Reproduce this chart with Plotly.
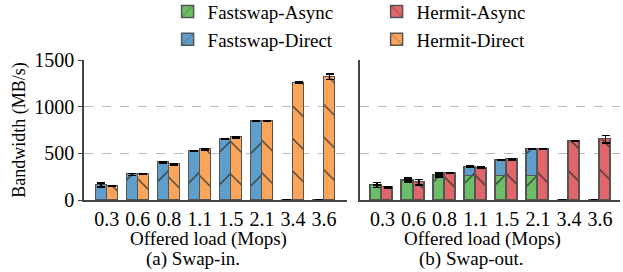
import plotly.graph_objects as go

loads = ["0.3", "0.6", "0.8", "1.1", "1.5", "2.1", "3.4", "3.6"]

# (a) Swap-in
in_fs_direct = [160, 275, 404, 528, 650, 846, 0, 0]
in_fs_direct_err = [20, 10, 5, 5, 3, 3, None, None]
in_hm_direct = [148, 275, 385, 546, 671, 846, 1257, 1321]
in_hm_direct_err = [4, 4, 8, 8, 6, 3, 5, 30]

# (b) Swap-out
out_fs_async = [160, 214, 268, 261, 261, 261, 0, 0]
out_fs_async_err = [25, 20, 20, None, None, None, None, None]
out_fs_direct = [0, 0, 0, 96, 168, 285, 0, 0]
out_fs_direct_err = [None, None, None, 10, 5, 5, None, None]
out_hm_async = [136, 189, 289, 346, 436, 546, 632, 650]
out_hm_async_err = [5, 30, 5, 10, 10, 5, 5, 40]

XTITLE = "Offered load (Mops)"
SUBTITLES = ["(a) Swap-in.", "(b) Swap-out."]

C_GREEN = "#6cbd68"
C_BLUE = "#5e9ecb"
C_RED = "#e0666a"
C_ORANGE = "#fba55b"
EDGE = "#555555"
FONT = "Liberation Serif"
BW = 0.355

idx = list(range(len(loads)))
x_fs = [i - BW / 2 for i in idx]
x_hm = [i + BW / 2 for i in idx]


def bar(x, y, err, color, shape, name, xa, ya, show, rank, legendgroup):
    return go.Bar(
        x=x, y=y, width=BW, name=name, xaxis=xa, yaxis=ya,
        showlegend=show, legendrank=rank, legendgroup=legendgroup,
        marker=dict(color=color, line=dict(color=EDGE, width=1.5),
                    pattern=dict(shape=shape, size=23, solidity=0.05,
                                 fgcolor="#222222", fgopacity=1)),
        error_y=dict(type="data", array=err, color="black", thickness=1.5, width=4),
    )


fig = go.Figure()
fig.add_trace(bar(x_fs, in_fs_direct, in_fs_direct_err, C_BLUE, "/", "Fastswap-Direct", "x", "y", True, 3, "fd"))
fig.add_trace(bar(x_hm, in_hm_direct, in_hm_direct_err, C_ORANGE, "\\", "Hermit-Direct", "x", "y", True, 4, "hd"))
fig.add_trace(bar(x_fs, out_fs_async, out_fs_async_err, C_GREEN, "/", "Fastswap-Async", "x2", "y2", True, 1, "fa"))
fig.add_trace(bar(x_fs, out_fs_direct, out_fs_direct_err, C_BLUE, "/", "Fastswap-Direct", "x2", "y2", False, 3, "fd"))
fig.add_trace(bar(x_hm, out_hm_async, out_hm_async_err, C_RED, "\\", "Hermit-Async", "x2", "y2", True, 2, "ha"))

axis_font = dict(family=FONT, size=20, color="black")
label_font = dict(family=FONT, size=19, color="black")
xcommon = dict(tickvals=idx, ticktext=loads, range=[-0.73, 7.74], showgrid=False,
               showline=True, linecolor="#444444", linewidth=1.5, ticks="",
               tickfont=axis_font, zeroline=False, automargin=False)
ycommon = dict(range=[0, 1500], tickvals=[0, 500, 1000, 1500], showgrid=True,
               gridcolor="#bbbbbb", griddash="dash", gridwidth=1, showline=True,
               linecolor="#444444", linewidth=1.5, zeroline=False, tickfont=axis_font,
               automargin=False)

# panel label annotations (paper coordinates; plot area spans 536 x 140 px)
annots = []
for cx_title, cx_sub, sub in [(208, 193, SUBTITLES[0]), (482, 471, SUBTITLES[1])]:
    annots.append(dict(text=XTITLE, x=(cx_title - 84) / 536, y=-39 / 140, xref="paper",
                       yref="paper", xanchor="center", yanchor="middle", showarrow=False,
                       font=label_font))
    annots.append(dict(text=sub, x=(cx_sub - 84) / 536, y=-59 / 140, xref="paper",
                       yref="paper", xanchor="center", yanchor="middle", showarrow=False,
                       font=label_font))

fig.update_layout(
    width=623, height=272,
    margin=dict(l=84, r=3, t=60, b=72, autoexpand=False),
    plot_bgcolor="white", paper_bgcolor="white",
    barmode="stack", bargap=0,
    font=dict(family=FONT, size=20, color="black"),
    xaxis=dict(domain=[0, 0.4907], **xcommon),
    xaxis2=dict(domain=[0.5149, 1], anchor="y2", **{**xcommon, "range": [-0.72, 7.64]}),
    yaxis=dict(**ycommon, ticks="outside", ticklen=4, tickcolor="#444444",
               title=dict(text="Bandwidth (MB/s)", font=dict(family=FONT, size=18, color="black"),
                          standoff=4)),
    yaxis2=dict(**ycommon, anchor="x2", showticklabels=False, ticks=""),
    annotations=annots,
    legend=dict(orientation="h", x=0.156, y=1.481, xanchor="left", yanchor="top",
                entrywidth=164, entrywidthmode="pixels", traceorder="normal",
                font=dict(family=FONT, size=19), bgcolor="rgba(0,0,0,0)",
                tracegroupgap=0, itemwidth=30),
)

fig.write_html("out.html", config={"displayModeBar": False})

with open("out.html", encoding="utf-8") as f:
    html = f.read()
html = html.replace("<head>", "<head><style>html,body{margin:0;padding:0;overflow:hidden}</style>", 1)
with open("out.html", "w", encoding="utf-8") as f:
    f.write(html)
